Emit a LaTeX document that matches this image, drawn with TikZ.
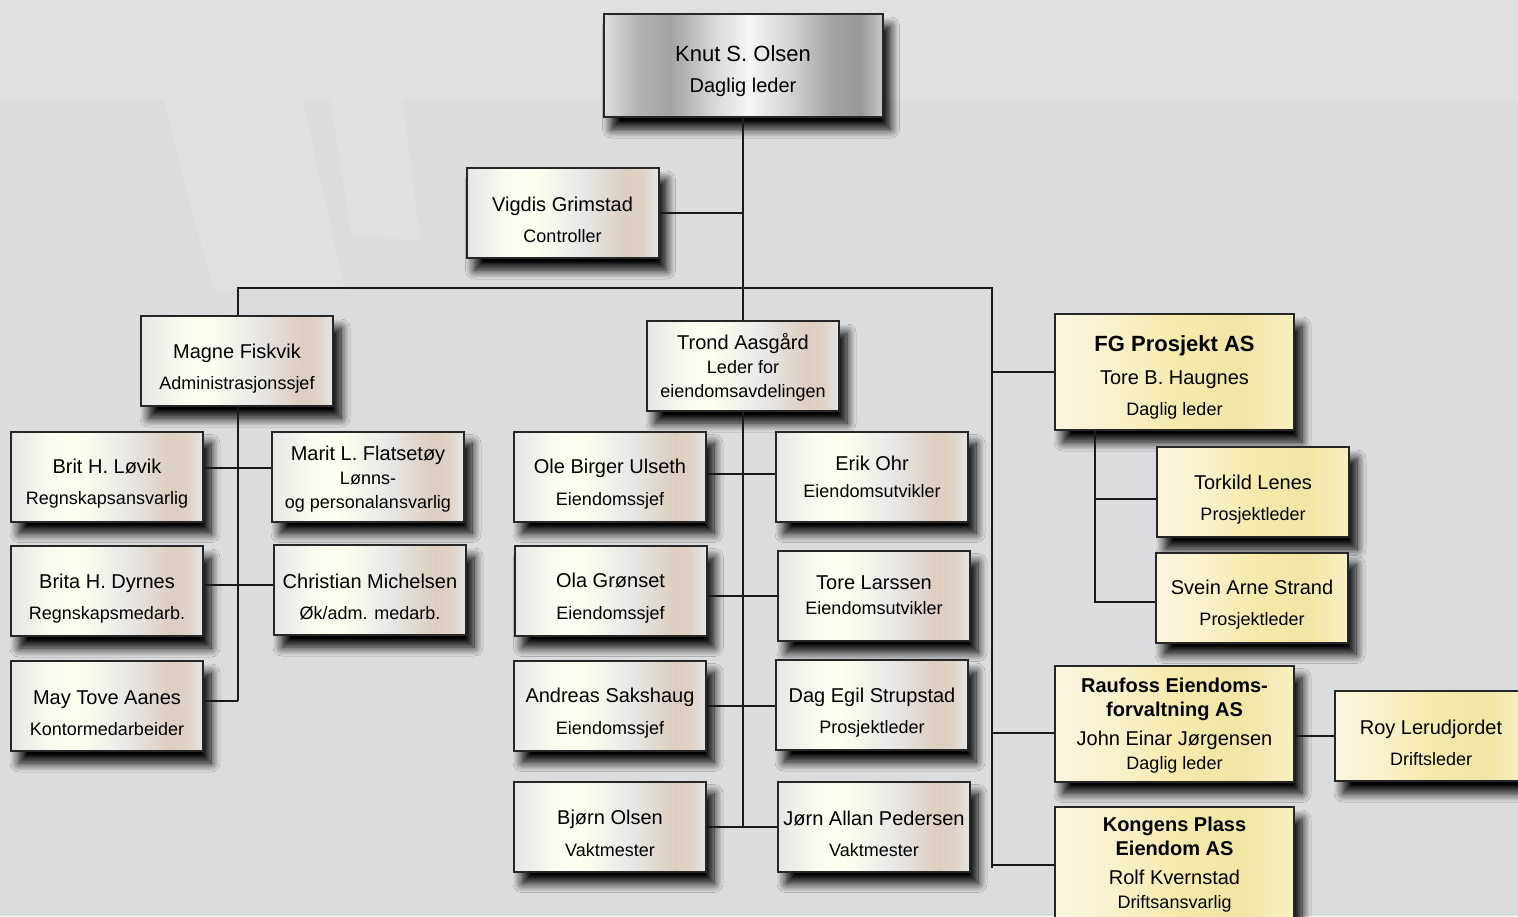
\documentclass[tikz,border=0pt]{standalone}
\usepackage{fontspec}
\setmainfont{Liberation Sans}
\usetikzlibrary{shadows.blur}

\definecolor{bgcol}{RGB}{219,220,222}
\definecolor{bglight}{RGB}{223,224,225}
\definecolor{goldlight}{RGB}{250,246,222}
\definecolor{goldmid}{RGB}{246,234,172}
\definecolor{golddark}{RGB}{241,229,164}

% metallic fills, stops between 25bp and 75bp cover the box
\pgfdeclarehorizontalshading{metal}{100bp}{%
  color(0bp)=(white!88!black); color(25bp)=(white!88!black);
  color(31bp)=(black!30); color(37bp)=(black!36); color(45bp)=(white!85!black);
  color(51bp)=(white!96!black); color(58bp)=(white!84!black);
  color(66bp)=(black!36); color(71bp)=(black!40); color(75bp)=(black!22);
  color(100bp)=(black!22)}
\pgfdeclarehorizontalshading{plate}{100bp}{%
  color(0bp)=(white!90!black); color(25bp)=(white!90!black);
  color(35bp)=(white!96!yellow!98!black); color(42bp)=(white!94!yellow);
  color(55bp)=(white!91!black); color(67bp)=(white!75!brown!92!black);
  color(71bp)=(white!80!brown!92!black); color(75bp)=(white!90!black);
  color(100bp)=(white!90!black)}
\pgfdeclarehorizontalshading{brass}{100bp}{%
  color(0bp)=(goldlight); color(25bp)=(goldlight);
  color(38bp)=(goldlight!60!goldmid); color(50bp)=(goldmid);
  color(64bp)=(golddark); color(75bp)=(goldmid!70!white);
  color(100bp)=(goldmid!70!white)}

\newcommand{\namefont}{\fontsize{10}{12}\selectfont}
\newcommand{\rolefont}{\fontsize{9}{11}\selectfont}
\newcommand{\firmfont}{\fontsize{10}{12}\selectfont\bfseries}
\newcommand{\person}[3][3.5pt]{\rule{0pt}{14.5pt}{\namefont #2}\\[#1]{\rolefont #3}}

\tikzset{
  box/.style={draw=black!85, line width=1pt, shading=plate,
    minimum width=96pt, minimum height=45pt, inner sep=1pt, align=center,
    font=\fontsize{10}{12}\selectfont,
    blur shadow={shadow xshift=4pt, shadow yshift=-6pt,
      shadow blur radius=4.5pt, shadow blur steps=12, shadow opacity=100}},
  topbox/.style={box, shading=metal, minimum width=139.5pt, minimum height=51.5pt},
  firmbox/.style={box, shading=brass, minimum width=119.5pt, minimum height=58pt},
  link/.style={line width=1pt, black!90},
}

\begin{document}
\begin{tikzpicture}[x=0.5pt,y=-0.5pt]
	\clip (0,0) rectangle (1518,916);
	
	% Background
	\fill[bgcol] (0,0) rectangle (1518,916);
	\fill[bglight] (0,0) rectangle (1518,100);
	\fill[bglight] (137,0) -- (282,8) -- (345,290) -- (213,290) -- cycle;
	\fill[bglight] (320,36) -- (395,40) -- (420,240) -- (352,236) -- cycle;
	
	% Management
	\node[topbox] (knut) at (743,65.5)
		{\rule{0pt}{14pt}{\fontsize{11}{13}\selectfont Knut S. Olsen}\\[3.5pt]{\fontsize{10}{12}\selectfont Daglig leder}};
	\node[box] (vigdis) at (562.5,213) {\person{Vigdis Grimstad}{Controller}};
	\node[box] (magne) at (237,361) {\person{Magne Fiskvik}{Administrasjonssjef}};
	\node[box] (trond) at (743,366)
		{\rule{0pt}{9.5pt}{\namefont Trond Aasgård}\\{\rolefont Leder for}\\{\rolefont eiendomsavdelingen}};
	
	% Administration
	\node[box] (brit) at (107,476.5) {\person{Brit H. Løvik}{Regnskapsansvarlig}};
	\node[box] (marit) at (368,476.5)
		{\rule{0pt}{9.5pt}{\namefont Marit L. Flatsetøy}\\{\rolefont Lønns-}\\{\rolefont og personalansvarlig}};
	\node[box] (brita) at (107,591) {\person{Brita H. Dyrnes}{Regnskapsmedarb.}};
	\node[box] (christian) at (370,590) {\person{Christian Michelsen}{Øk/adm. medarb.}};
	\node[box] (may) at (107,706) {\person{May Tove Aanes}{Kontormedarbeider}};
	
	% Property department
	\node[box] (ole) at (610,476.5) {\person[4pt]{Ole Birger Ulseth}{Eiendomssjef}};
	\node[box] (erik) at (872,476.5) {{\namefont Erik Ohr}\\[1.5pt]{\rolefont Eiendomsutvikler}};
	\node[box] (ola) at (610.5,590.5) {\person[4pt]{Ola Grønset}{Eiendomssjef}};
	\node[box] (tore) at (874,595.5) {{\namefont Tore Larssen}\\[0.5pt]{\rolefont Eiendomsutvikler}};
	\node[box] (andreas) at (610,705.5) {\person[4pt]{Andreas Sakshaug}{Eiendomssjef}};
	\node[box] (dag) at (872,705) {\person{Dag Egil Strupstad}{Prosjektleder}};
	\node[box] (bjorn) at (610,826.5) {\person[4pt]{Bjørn Olsen}{Vaktmester}};
	\node[box] (jorn) at (874,826.5) {\person{Jørn Allan Pedersen}{Vaktmester}};
	
	% Companies
	\node[firmbox] (fg) at (1174.5,372)
		{\rule{0pt}{13.5pt}{\fontsize{11}{13}\selectfont\bfseries FG Prosjekt AS}\\[4.5pt]{\namefont Tore B. Haugnes}\\[3.5pt]{\rolefont Daglig leder}};
	\node[box, shading=brass] (torkild) at (1253,492) {\person{Torkild Lenes}{Prosjektleder}};
	\node[box, shading=brass] (svein) at (1252,597.5) {\person{Svein Arne Strand}{Prosjektleder}};
	\node[firmbox] (raufoss) at (1174.5,723.5)
		{\rule{0pt}{9pt}{\firmfont Raufoss Eiendoms-}\\{\firmfont forvaltning AS}\\[2.5pt]{\namefont John Einar Jørgensen}\\{\rolefont Daglig leder}};
	\node[box, shading=brass] (roy) at (1431,736) {\person{Roy Lerudjordet}{Driftsleder}};
	\node[firmbox] (kongens) at (1174.5,865)
		{{\firmfont Kongens Plass}\\{\firmfont Eiendom AS}\\[2.5pt]{\namefont Rolf Kvernstad}\\{\rolefont Driftsansvarlig}};
	
	% The trunk and the bus
	\coordinate (busL) at (238,288);
	\coordinate (busR) at (992,288);
	\coordinate (rbot) at (992,868);
	\coordinate (lbot) at (238,701);
	\coordinate (mbot) at (743,828);
	\draw[link] (knut.south) -- (trond.north);
	\draw[link] (vigdis.east) -- (vigdis.east -| knut.south);
	\draw[link] (busL |- magne.north) -- (busL) -- (busR) -- (rbot);
	
	% Administration links
	\draw[link] (magne.south -| lbot) -- (lbot);
	\draw[link] ([yshift=4.5pt]brit.east) -- ([yshift=4.5pt]marit.west);
	\draw[link] ([yshift=3pt]brita.east) -- ([yshift=3pt]brita.east -| christian.west);
	\draw[link] (may.east |- lbot) -- (lbot);
	
	% Property links
	\draw[link] (trond.south) -- (mbot);
	\draw[link] ([yshift=1.5pt]ole.east) -- ([yshift=1.5pt]erik.west);
	\draw[link] (tore.west -| ola.east) -- (tore.west);
	\draw[link] (andreas.east) -- (andreas.east -| dag.west);
	\draw[link] (bjorn.east) -- (jorn.west);
	
	% Company links
	\coordinate[xshift=20.5pt] (fgstem) at (fg.south west);
	\draw[link] (fg.west -| rbot) -- (fg.west);
	\draw[link] (fgstem) |- ([yshift=-2pt]svein.west);
	\draw[link] ([yshift=-3.5pt]torkild.west) -- ([yshift=-3.5pt]torkild.west -| fgstem);
	\draw[link] ([yshift=-4.5pt]raufoss.west -| rbot) -- ([yshift=-4.5pt]raufoss.west);
	\draw[link] (roy.west -| raufoss.east) -- (roy.west);
	\draw[link] (kongens.west -| rbot) -- (kongens.west);
	
\end{tikzpicture}
\end{document}
